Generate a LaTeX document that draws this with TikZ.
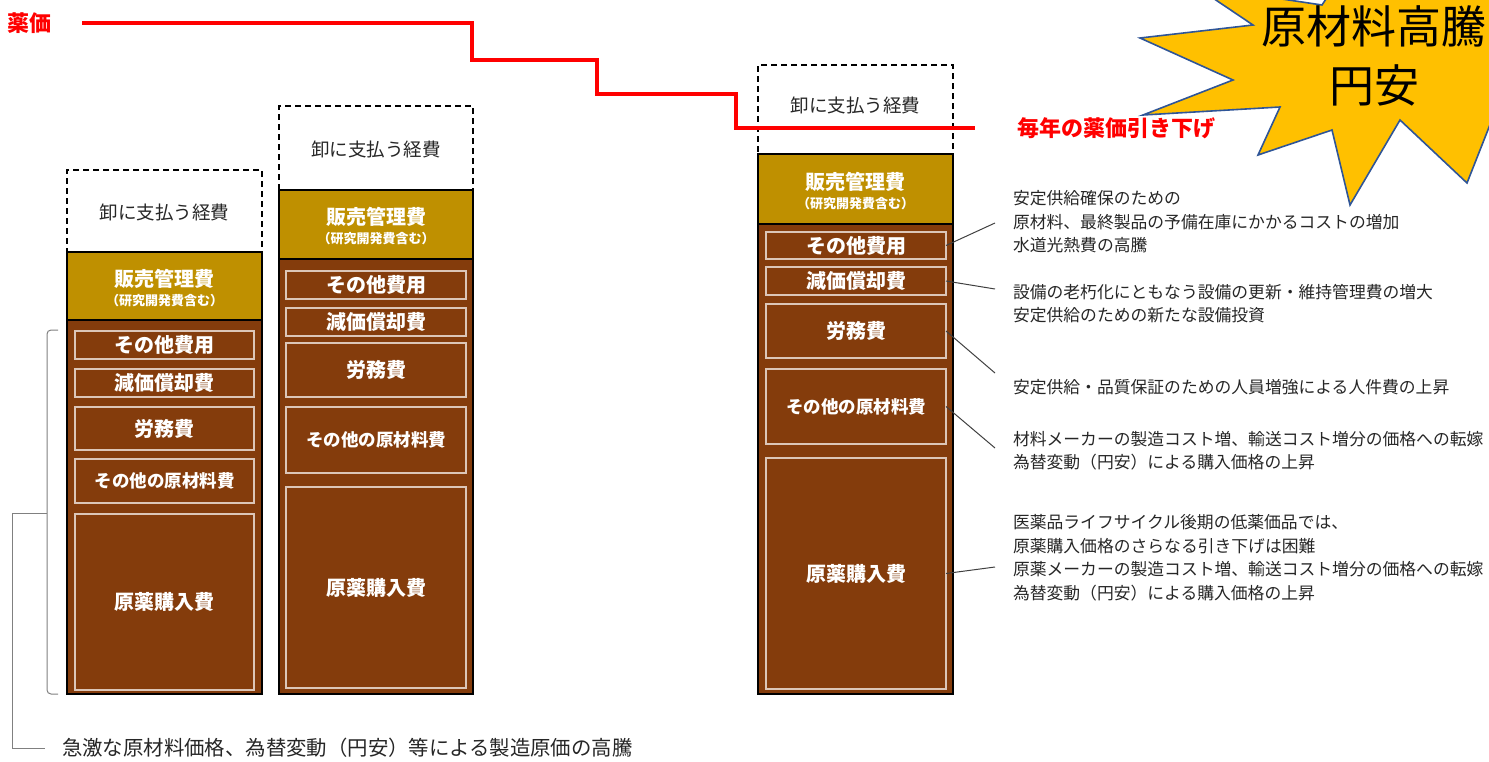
\documentclass[tikz,border=0pt]{standalone}
\usepackage{fontspec}
\setmainfont{Noto Sans CJK JP}
\definecolor{gold}{HTML}{BF9000}
\definecolor{brn}{HTML}{843C0C}
\definecolor{starfill}{HTML}{FFC000}
\definecolor{starline}{HTML}{2F5597}
\definecolor{inline}{HTML}{DCC6B8}
\definecolor{txt}{HTML}{262626}
\newcommand\fsz[2]{\fontsize{#1}{#2}\selectfont}
\begin{document}
\begin{tikzpicture}[x=1pt,y=-1pt,
  every node/.style={inner sep=0pt,outer sep=0pt},
  dashbox/.style={draw=black, dash pattern=on 6pt off 4pt, line width=1.3pt},
  dashtext/.style={font={\fsz{18.5}{22}}, text=txt},
  goldbox/.style={draw=black, fill=gold, line width=1.5pt},
  goldtext/.style={font={\fsz{20}{24}\bfseries}, text=white},
  goldsub/.style={font={\fsz{13}{15}\bfseries}, text=white},
  brownbox/.style={draw=black, fill=brn, line width=1.5pt},
  inbox/.style={draw=inline, line width=1.3pt, text=white, font={\fsz{20}{24}\bfseries}},
  inboxs/.style={inbox, font={\fsz{17.5}{21}\bfseries}},
  rtext/.style={anchor=west, align=left, font={\fsz{16.8}{23.5}}, text=txt},
  conn/.style={draw=black!75, line width=1pt},
  bracket/.style={draw=black!50, line width=1pt},
  redline/.style={draw=red, line width=4.8pt, line join=miter},
  redlabel/.style={font={\fsz{22}{26}\bfseries}, text=red}]
\useasboundingbox (0,0) rectangle (1489,761);

% ---------- column 1 ----------
\node[dashbox, minimum width=195, minimum height=82] (w1) at (164.5,211) {};
\node[dashtext] (w1t) at (164.5,212) {卸に支払う経費};
\node[goldbox, minimum width=195, minimum height=68] (g1) at (164.5,286) {};
\node[goldtext] (g1a) at (164.5,279) {販売管理費};
\node[goldsub] (g1b) at (164.5,301) {（研究開発費含む）};
\node[brownbox, minimum width=195, minimum height=374] (br1) at (164.5,507) {};
\node[inbox, minimum width=179, minimum height=28] (a1) at (164.5,345) {その他費用};
\node[inbox, minimum width=179, minimum height=28] (b1) at (164.5,383) {減価償却費};
\node[inbox, minimum width=179, minimum height=43] (c1) at (164.5,428.5) {労務費};
\node[inboxs, minimum width=179, minimum height=44] (d1) at (164.5,481) {その他の原材料費};
\node[inbox, minimum width=179, minimum height=176] (e1) at (164.5,602) {原薬購入費};

% ---------- column 2 ----------
\node[dashbox, minimum width=194, minimum height=84] (w2) at (376,148) {};
\node[dashtext] (w2t) at (376,149) {卸に支払う経費};
\node[goldbox, minimum width=194, minimum height=69] (g2) at (376,224.5) {};
\node[goldtext] (g2a) at (376,217) {販売管理費};
\node[goldsub] (g2b) at (376,239) {（研究開発費含む）};
\node[brownbox, minimum width=194, minimum height=435] (br2) at (376,476.5) {};
\node[inbox, minimum width=180, minimum height=28] (a2) at (376,285) {その他費用};
\node[inbox, minimum width=180, minimum height=28] (b2) at (376,322) {減価償却費};
\node[inbox, minimum width=180, minimum height=54] (c2) at (376,370) {労務費};
\node[inboxs, minimum width=180, minimum height=66] (d2) at (376,440) {その他の原材料費};
\node[inbox, minimum width=180, minimum height=201] (e2) at (376,587.5) {原薬購入費};

% ---------- column 3 ----------
\node[dashbox, minimum width=195, minimum height=89] (w3) at (855.5,109.5) {};
\node[dashtext] (w3t) at (855.5,105) {卸に支払う経費};
\node[goldbox, minimum width=195, minimum height=70] (g3) at (855.5,189) {};
\node[goldtext] (g3a) at (855.5,182) {販売管理費};
\node[goldsub] (g3b) at (855.5,204) {（研究開発費含む）};
\node[brownbox, minimum width=195, minimum height=470] (br3) at (855.5,459) {};
\node[inbox, minimum width=180, minimum height=27] (a3) at (856,245.5) {その他費用};
\node[inbox, minimum width=180, minimum height=28] (b3) at (856,281) {減価償却費};
\node[inbox, minimum width=180, minimum height=54] (c3) at (856,331) {労務費};
\node[inboxs, minimum width=180, minimum height=75] (d3) at (856,406.5) {その他の原材料費};
\node[inbox, minimum width=180, minimum height=231] (e3) at (856,573.5) {原薬購入費};

% ---------- red price line ----------
\node[redlabel, anchor=west] (yakka) at (8,23) {薬価};
\coordinate (p0) at (82,23);
\coordinate (p1) at (472,23);
\coordinate (p2) at (472,60);
\coordinate (p3) at (597,60);
\coordinate (p4) at (597,94);
\coordinate (p5) at (736,94);
\coordinate (p6) at (736,128);
\coordinate (p7) at (975,128);
\draw[redline] (p0) -- (p1) -- (p2) -- (p3) -- (p4) -- (p5) -- (p6) -- (p7);
\node[redlabel, anchor=west] (hikisage) at (1017,128) {毎年の薬価引き下げ};

% ---------- right explanations ----------
\node[rtext] (r1) at (1013,222) {安定供給確保のための\\原材料、最終製品の予備在庫にかかるコストの増加\\水道光熱費の高騰};
\node[rtext] (r2) at (1013,303.5) {設備の老朽化にともなう設備の更新・維持管理費の増大\\安定供給のための新たな設備投資};
\node[rtext] (r3) at (1013,387) {安定供給・品質保証のための人員増強による人件費の上昇};
\node[rtext] (r4) at (1013,450.5) {材料メーカーの製造コスト増、輸送コスト増分の価格への転嫁\\為替変動（円安）による購入価格の上昇};
\node[rtext] (r5) at (1013,557.5) {医薬品ライフサイクル後期の低薬価品では、\\原薬購入価格のさらなる引き下げは困難\\原薬メーカーの製造コスト増、輸送コスト増分の価格への転嫁\\為替変動（円安）による購入価格の上昇};

\coordinate (q1) at (995,223);
\coordinate (q2) at (995,289);
\coordinate (q3) at (995,373);
\coordinate (q4) at (995,448);
\coordinate (q5) at (995,567);
\draw[conn] (a3.east) -- (q1);
\draw[conn] (b3.east) -- (q2);
\draw[conn] (c3.east) -- (q3);
\draw[conn] (d3.east) -- (q4);
\draw[conn] (e3.east) -- (q5);

% ---------- bracket and bottom note ----------
\draw[bracket, rounded corners=4pt] (58,330) -- (47,330) -- (47,694) -- (58,694);
\coordinate (bm) at (47,513);
\coordinate (bl) at (12,513);
\coordinate (bb) at (12,748);
\node[anchor=west, font={\fsz{20.4}{24}}, text=txt] (bt) at (62,748) {急激な原材料価格、為替変動（円安）等による製造原価の高騰};
\draw[bracket] (bm) -- (bl) -- (bb) -- ([xshift=-17pt]bt.west);

% ---------- explosion ----------
\draw[fill=starfill, draw=starline, line width=1.6pt, line join=miter]
  (1140,38) -- (1253,25) -- (1195,-14) -- (1322,5) -- (1345,-30) -- (1408,-2)
  -- (1480,-30) -- (1540,60) -- (1495,112) -- (1467,183) -- (1400,120)
  -- (1350,205) -- (1332,130) -- (1258,155) -- (1280,107) -- (1143,115)
  -- (1233,80) -- cycle;
\node[align=center, font={\fsz{45}{59}}, text=black] (star) at (1374,56) {原材料高騰\\円安};
\end{tikzpicture}
\end{document}
